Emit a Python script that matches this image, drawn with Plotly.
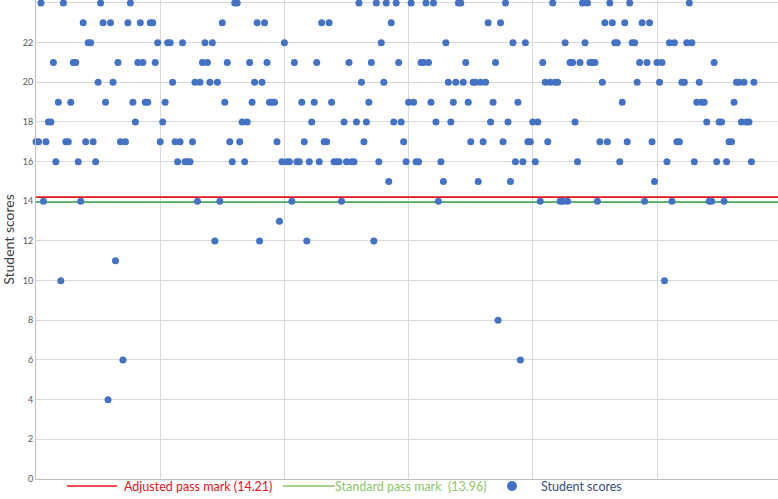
import plotly.graph_objects as go

# Scores per student, in the order they were plotted (student 1 .. 290)
scores = [
    17, 17, 24, 14, 17, 18, 18, 21, 16, 19,
    10, 24, 17, 17, 19, 21, 21, 16, 14, 23,
    17, 22, 22, 17, 16, 20, 24, 23, 19, 4,
    23, 20, 11, 21, 17, 6, 17, 23, 24, 19,
    18, 21, 23, 21, 19, 19, 23, 23, 21, 22,
    17, 18, 19, 22, 22, 20, 17, 16, 17, 22,
    16, 16, 16, 17, 20, 14, 20, 21, 22, 21,
    20, 22, 12, 20, 14, 23, 19, 21, 17, 16,
    24, 24, 17, 18, 16, 18, 21, 19, 20, 23,
    12, 20, 23, 21, 19, 19, 19, 17, 13, 16,
    22, 16, 16, 14, 21, 16, 16, 19, 17, 12,
    16, 18, 19, 21, 16, 23, 17, 17, 23, 19,
    16, 16, 16, 14, 18, 16, 21, 16, 16, 18,
    24, 20, 17, 18, 19, 21, 12, 24, 16, 22,
    20, 24, 15, 23, 18, 24, 21, 18, 17, 16,
    19, 24, 19, 16, 16, 21, 21, 24, 21, 19,
    24, 18, 14, 16, 15, 22, 20, 18, 19, 20,
    24, 24, 20, 21, 19, 17, 20, 20, 15, 20,
    17, 20, 23, 18, 19, 21, 8, 23, 17, 24,
    18, 15, 22, 16, 19, 6, 16, 22, 17, 17,
    18, 16, 18, 14, 21, 20, 17, 20, 24, 20,
    20, 14, 14, 22, 14, 21, 21, 18, 16, 21,
    24, 22, 24, 21, 21, 21, 14, 17, 20, 23,
    17, 24, 23, 22, 22, 16, 19, 23, 17, 24,
    22, 22, 20, 21, 23, 14, 21, 23, 17, 15,
    21, 20, 21, 10, 16, 22, 14, 22, 17, 17,
    20, 20, 22, 24, 22, 16, 19, 20, 19, 19,
    18, 14, 14, 21, 16, 18, 18, 14, 16, 17,
    17, 19, 20, 20, 18, 20, 18, 18, 16, 20,
]
students = list(range(1, len(scores) + 1))
score_ticks = list(range(0, 25, 2))

adjusted_pass = 14.21
standard_pass = 13.96

x_min, x_max = 1, 299.7
y_min, y_max = 0, 24.15

RED = '#E8141C'
GREEN = '#4DB35A'
LIGHT_GREEN = '#8CC66A'
BLUE = '#4472C4'

W, H = 778, 499
M_L, M_B = 36, 20
plot_w, plot_h = W - M_L, H - M_B


def px(x):
    # pixel column -> paper x
    return (x - M_L) / plot_w


def py(y):
    # pixel row -> paper y
    return (plot_h - y) / plot_h


fig = go.Figure()

fig.add_trace(go.Scatter(
    x=[x_min, x_max], y=[adjusted_pass, adjusted_pass],
    mode='lines', line=dict(color=RED, width=1.6),
    name='Adjusted pass mark (14.21)'))

fig.add_trace(go.Scatter(
    x=[x_min, x_max], y=[standard_pass, standard_pass],
    mode='lines', line=dict(color=GREEN, width=1.6),
    name='Standard pass mark  (13.96)'))

fig.add_trace(go.Scatter(
    x=students, y=scores, mode='markers',
    marker=dict(color=BLUE, size=7),
    cliponaxis=False, name='Student scores'))

# legend drawn by hand below the axis, so it does not squeeze the plot area
ly = py(486)
shapes = [
    dict(type='line', xref='paper', yref='paper', x0=px(67), x1=px(117),
         y0=ly, y1=ly, line=dict(color=RED, width=1.6)),
    dict(type='line', xref='paper', yref='paper', x0=px(283), x1=px(335),
         y0=ly, y1=ly, line=dict(color=LIGHT_GREEN, width=1.6)),
    dict(type='circle', xref='paper', yref='paper', x0=px(507), x1=px(517),
         y0=py(491), y1=py(481), fillcolor=BLUE, line=dict(width=0)),
]
legend_items = [
    ('Adjusted pass mark (14.21)', 122, RED),
    ('Standard pass mark  (13.96)', 333, LIGHT_GREEN),
    ('Student scores', 539, '#3A4F7A'),
]
annotations = [
    dict(text=t, x=px(x), y=ly, xref='paper', yref='paper', xanchor='left',
         yanchor='middle', showarrow=False, font=dict(size=12.5, color=c))
    for t, x, c in legend_items
]

fig.update_layout(
    width=W, height=H,
    margin=dict(l=M_L, r=0, t=0, b=M_B),
    paper_bgcolor='white', plot_bgcolor='white',
    font=dict(family='Lato, sans-serif', color='#595959'),
    showlegend=False, shapes=shapes, annotations=annotations,
)

fig.update_xaxes(range=[x_min, x_max], tick0=x_min, dtick=50,
                 showticklabels=False, showgrid=True, gridcolor='#D9D9D9',
                 gridwidth=1, zeroline=False, showline=True,
                 linecolor='#BFBFBF', linewidth=1, automargin=False)

fig.update_yaxes(range=[y_min, y_max], tickmode='array', tickvals=score_ticks,
                 showgrid=True, gridcolor='#D9D9D9', gridwidth=1,
                 zeroline=False, showline=True, linecolor='#BFBFBF',
                 linewidth=1, automargin=False,
                 tickfont=dict(size=9, color='#595959'),
                 title=dict(text='Student scores', standoff=4,
                            font=dict(size=14, color='#404040')))

# the browser adds an 8px body margin; drop it so the figure sits at 0,0
fig.write_html("out.html", config={'displayModeBar': False},
               post_script="document.body.style.margin='0px';")
